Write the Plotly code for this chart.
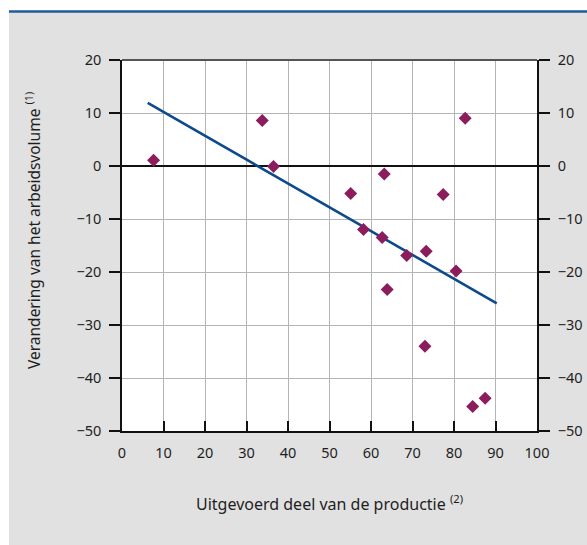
import plotly.graph_objects as go

# Data
export_share = [7.6, 33.8, 36.5, 55.1, 58.2, 62.7, 63.2, 63.9, 68.6, 73.3, 73.0, 77.4, 80.5, 82.7, 84.5, 87.5]
labour_change = [1.1, 8.6, -0.1, -5.2, -12.0, -13.5, -1.5, -23.3, -16.9, -16.1, -34.0, -5.4, -19.8, 9.0, -45.4, -43.8]
trend_x = [6.2, 90.3]
trend_y = [11.9, -25.9]
x_ticks = [0, 10, 20, 30, 40, 50, 60, 70, 80, 90, 100]
y_ticks = [20, 10, 0, -10, -20, -30, -40, -50]

W, H = 587, 545
L, R, T, B = 122, 50, 60, 114
PW, PH = W - L - R, H - T - B


def px(xp):
    return (xp - L) / PW


def py(yp):
    return (H - B - yp) / PH


FONT = "Noto Sans"
TXT = "#1e1e1e"

fig = go.Figure()
fig.add_trace(go.Scatter(x=trend_x, y=trend_y, mode="lines",
                         line=dict(color="#0d4a8c", width=2.6), showlegend=False,
                         hoverinfo="skip"))
fig.add_trace(go.Scatter(x=export_share, y=labour_change, mode="markers",
                         marker=dict(symbol="diamond", size=10, color="#8c1d5c"),
                         showlegend=False))
# invisible trace to activate right axis
fig.add_trace(go.Scatter(x=[0], y=[0], yaxis="y2", mode="markers",
                         marker=dict(opacity=0), showlegend=False, hoverinfo="skip"))

fig.update_layout(
    width=W, height=H,
    margin=dict(l=L, r=R, t=T, b=B, pad=0, autoexpand=False),
    paper_bgcolor="#e1e1e1",
    plot_bgcolor="white",
    font=dict(family=FONT, size=14.5, color=TXT),
    xaxis=dict(range=[0, 100], tickvals=x_ticks, ticks="inside", ticklen=10,
               tickwidth=1.5, tickcolor="#111", showline=True, linecolor="#111",
               linewidth=1.5, showgrid=True, gridcolor="#b4b4b4", gridwidth=1,
               zeroline=False, ticklabelstandoff=8, fixedrange=True, automargin=False),
    yaxis=dict(range=[-50, 20], tickvals=y_ticks, ticks="outside", ticklen=11,
               tickwidth=1.5, tickcolor="#111", showline=True, linecolor="#111",
               linewidth=1.5, showgrid=True, gridcolor="#b4b4b4", gridwidth=1,
               zeroline=True, zerolinecolor="#111", zerolinewidth=1.5,
               ticklabelstandoff=5, fixedrange=True, automargin=False),
    yaxis2=dict(range=[-50, 20], tickvals=y_ticks, ticks="outside", ticklen=11,
                tickwidth=1.5, tickcolor="#111", showline=True, linecolor="#111",
                linewidth=1.5, showgrid=False, zeroline=False, overlaying="y",
                side="right", anchor="x", ticklabelstandoff=5, fixedrange=True,
                automargin=False),
    shapes=[
        # white strips outside the grey panel
        dict(type="rect", xref="paper", yref="paper", x0=px(0), x1=px(9),
             y0=py(H), y1=py(0), fillcolor="white", line=dict(width=0), layer="below"),
        dict(type="rect", xref="paper", yref="paper", x0=px(0), x1=px(W),
             y0=py(11), y1=py(0), fillcolor="white", line=dict(width=0), layer="below"),
        # blue top rule
        dict(type="line", xref="paper", yref="paper", x0=px(9), x1=px(W + 2),
             y0=py(11.5), y1=py(11.5), line=dict(color="#1f5a9c", width=2.5)),
        # top border of plot
        dict(type="line", xref="paper", yref="paper", x0=0, x1=1, y0=1, y1=1,
             line=dict(color="#555555", width=2)),
    ],
    annotations=[
        dict(text="Verandering van het arbeidsvolume <sup>(1)</sup>", xref="paper", yref="paper",
             x=px(33), y=py(231), textangle=-90, showarrow=False,
             font=dict(family=FONT, size=15.5, color=TXT), xanchor="center", yanchor="middle"),
        dict(text="Uitgevoerd deel van de productie <sup>(2)</sup>", xref="paper", yref="paper",
             x=px(329), y=py(503), showarrow=False,
             font=dict(family=FONT, size=16, color=TXT), xanchor="center", yanchor="middle"),
    ],
)

fig.write_html("out.html", config={"displayModeBar": False},
               post_script="document.body.style.margin='0';")
